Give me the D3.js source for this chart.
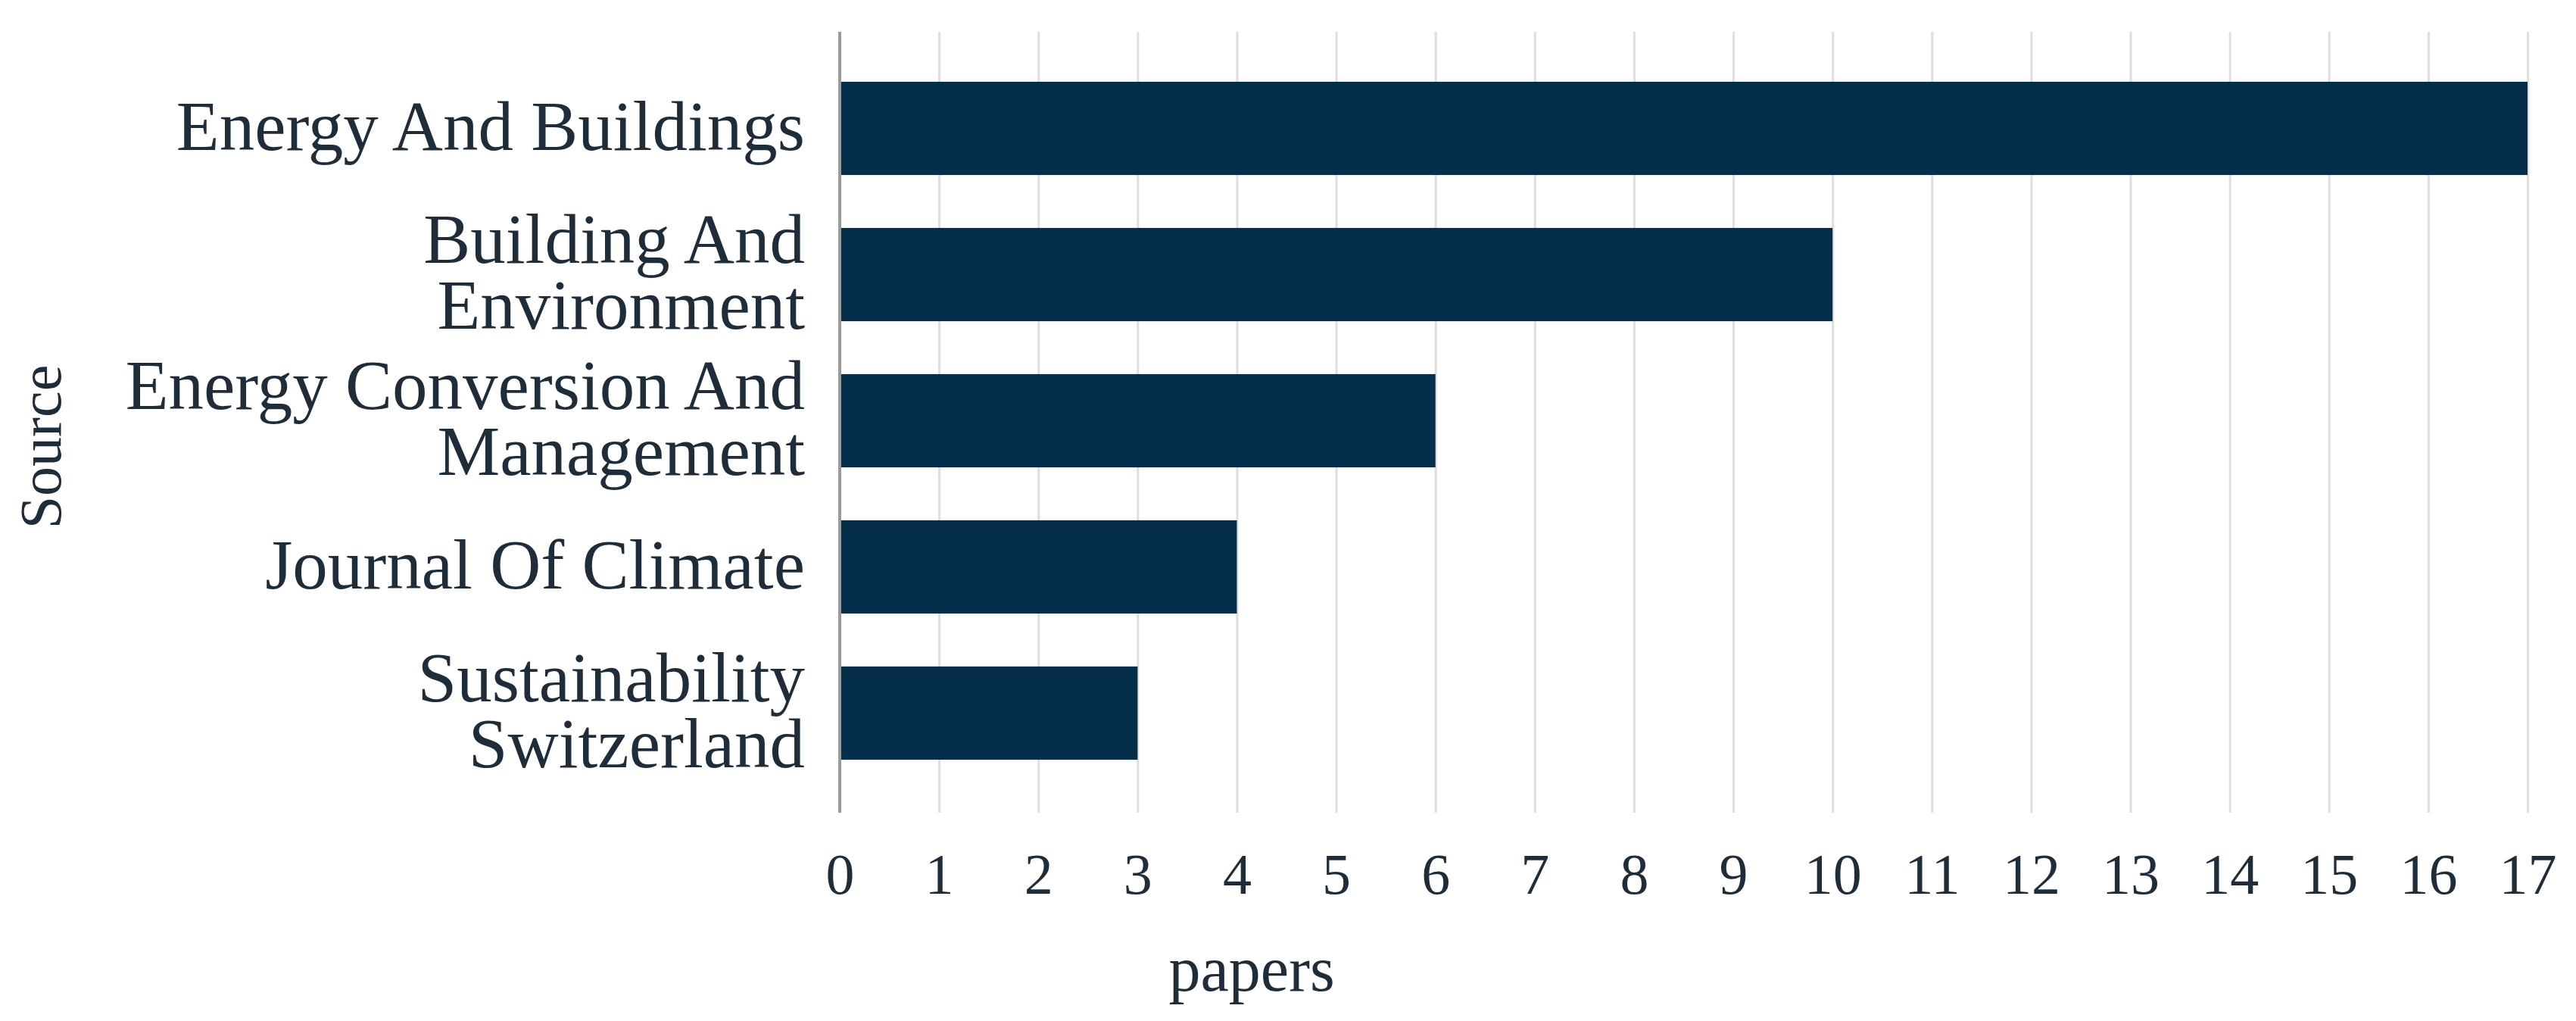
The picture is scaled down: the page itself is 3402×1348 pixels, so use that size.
<!DOCTYPE html>
<html lang="en">
<head>
  <meta charset="UTF-8">
  <title>papers by source</title>
  <style>
    html, body { margin: 0; padding: 0; background: #fff; }
    svg { display: block; }
    text { font-family: "Liberation Serif", "DejaVu Serif", serif; fill: #1f2d3a; }
  </style>
</head>
<body>
  <svg></svg>

<script src="https://cdn.jsdelivr.net/npm/d3@7/dist/d3.min.js"></script>

<script>
// data
const categories = [
  'Energy And Buildings',
  'Building And Environment',
  'Energy Conversion And Management',
  'Journal Of Climate',
  'Sustainability Switzerland'
];
// how each label is broken into lines
const labelLines = [
  ['Energy And Buildings'],
  ['Building And', 'Environment'],
  ['Energy Conversion And', 'Management'],
  ['Journal Of Climate'],
  ['Sustainability', 'Switzerland']
];
const papers = [17, 10, 6, 4, 3];
const tickValues = d3.range(0, 18);
const xTitle = 'papers';
const yTitle = 'Source';

const width = 3402;
const height = 1348;

const svg = d3.select('svg')
  .attr('width', width)
  .attr('height', height);

// scales
const x = d3.scaleLinear()
  .domain([0, 17])
  .range([1109, 3338]);

const y = d3.scaleBand()
  .domain(categories)
  .range([73, 1038])
  .paddingInner(0.362)
  .paddingOuter(0.181);

const gridTop = 42;
const gridBottom = 1073;

// vertical grid lines
const grid = svg.append('g')
  .attr('transform', `translate(0, ${gridBottom})`)
  .call(d3.axisBottom(x)
    .tickValues(tickValues.slice(1))
    .tickSize(-(gridBottom - gridTop))
    .tickFormat(''));
grid.select('.domain').remove();
grid.selectAll('line')
  .attr('stroke', '#dedede')
  .attr('stroke-width', 3);

// bars
svg.append('g')
  .selectAll('rect')
  .data(categories)
  .enter()
  .append('rect')
  .attr('x', x(0))
  .attr('y', d => y(d))
  .attr('width', (d, i) => x(papers[i]) - x(0))
  .attr('height', y.bandwidth())
  .attr('fill', '#042e49');

// zero line
svg.append('line')
  .attr('x1', x(0))
  .attr('x2', x(0))
  .attr('y1', gridTop)
  .attr('y2', gridBottom)
  .attr('stroke', '#9a9a9a')
  .attr('stroke-width', 4);

// x tick labels
const xAxis = svg.append('g')
  .attr('transform', `translate(0, ${gridBottom})`)
  .call(d3.axisBottom(x)
    .tickValues(tickValues)
    .tickSize(0)
    .tickFormat(d3.format('d')));
xAxis.select('.domain').remove();
xAxis.selectAll('text')
  .attr('y', 107)
  .attr('dy', 0)
  .attr('font-size', 76)
  .style('font-family', '"Liberation Serif", serif')
  .style('fill', '#1f2d3a');

// category labels
const labels = svg.append('g')
  .selectAll('text')
  .data(categories)
  .enter()
  .append('text')
  .attr('text-anchor', 'end')
  .attr('font-size', 93)
  .attr('y', d => y(d) + y.bandwidth() / 2 + 28);

labels.each(function(d, i) {
  const lines = labelLines[i];
  const lineH = 87;
  const start = -(lines.length - 1) * lineH / 2;
  d3.select(this)
    .selectAll('tspan')
    .data(lines)
    .enter()
    .append('tspan')
    .attr('x', 1063)
    .attr('dy', (l, j) => j === 0 ? start : lineH)
    .text(l => l);
});

// axis titles
svg.append('text')
  .attr('x', 1653)
  .attr('y', 1308)
  .attr('text-anchor', 'middle')
  .attr('font-size', 84)
  .text(xTitle);

svg.append('text')
  .attr('transform', 'translate(80, 590) rotate(-90)')
  .attr('text-anchor', 'middle')
  .attr('font-size', 78)
  .text(yTitle);
</script>
</body>
</html>
